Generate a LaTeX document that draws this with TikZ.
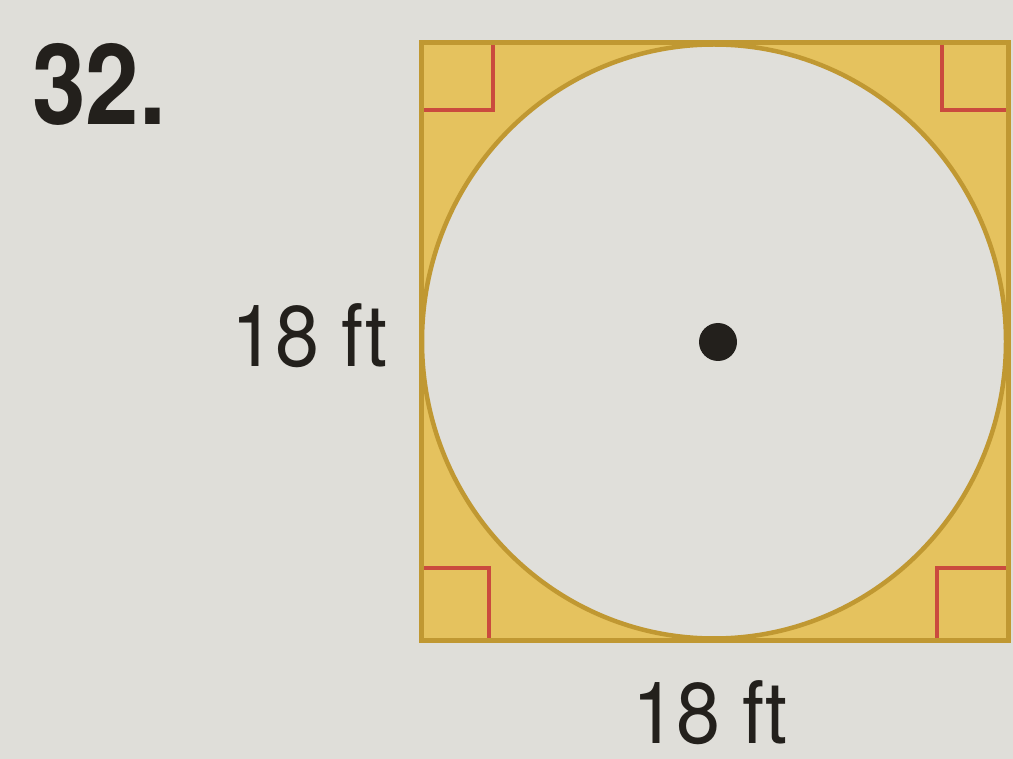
\documentclass[tikz,border=0pt]{standalone}
\usepackage{fontspec}
\setmainfont{TeX Gyre Heros}
\definecolor{bg}{RGB}{223,222,217}
\definecolor{fillY}{RGB}{229,194,94}
\definecolor{edgeY}{RGB}{192,152,50}
\definecolor{markR}{RGB}{202,74,62}
\definecolor{ink}{RGB}{35,32,28}
\tikzset{
  edge/.style={draw=edgeY,line width=5pt},
  rmark/.style={draw=markR,line width=4.5pt},
  lbl/.style={inner sep=0pt,text=ink,font=\fontsize{86}{88}\selectfont},
}
\begin{document}
\begin{tikzpicture}[x=1pt,y=-1pt]
\fill[bg] (0,0) rectangle (1013,759);
\useasboundingbox (0,0) rectangle (1013,759);
% square
\fill[fillY] (421,43) rectangle (1008,640);
% circle
\fill[bg!97!white] (714,341.5) ellipse [x radius=292, y radius=297];
\draw[edgeY,line width=4.5pt] (714,341.5) ellipse [x radius=292, y radius=297];
% right angle marks
\draw[rmark] (423,110) -- (493,110) -- (493,45);
\draw[rmark] (1006,110) -- (942,110) -- (942,45);
\draw[rmark] (423,568) -- (489,568) -- (489,638);
\draw[rmark] (1006,568) -- (937,568) -- (937,638);
\draw[edge,line join=miter] (421,43) rectangle (1008,640);
% centre
\fill[ink] (718,342) circle[radius=19];
% labels
\node[lbl,anchor=base west] (left) at (231,367) {\scalebox{0.92}[1]{18 ft}};
\node[lbl,anchor=base] (bottom) at (710,743) {\scalebox{0.92}[1]{18 ft}};
\node[inner sep=0pt,text=ink,anchor=base west,font=\fontsize{112}{114}\selectfont\bfseries] (num) at (32,125) {\scalebox{0.86}[1]{32.}};
\end{tikzpicture}
\end{document}
